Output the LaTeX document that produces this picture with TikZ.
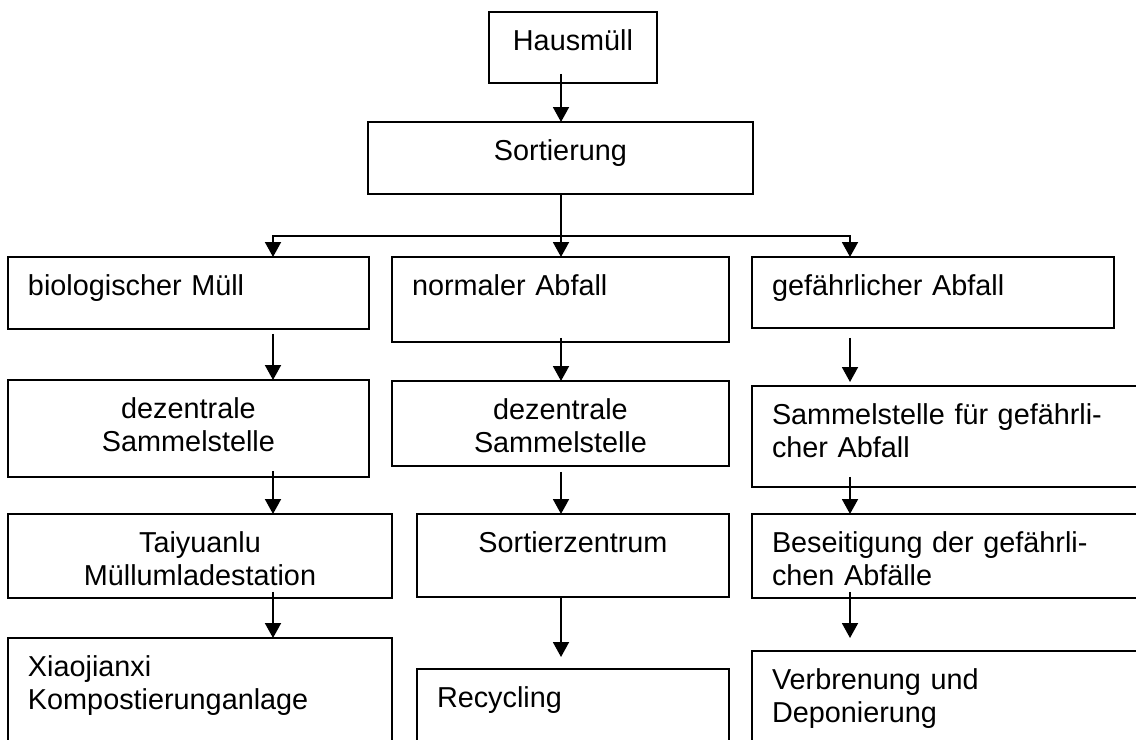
\documentclass[tikz,border=0pt]{standalone}
\usepackage{fontspec}
\setmainfont{Liberation Sans}
\usetikzlibrary{arrows.meta}

\begin{document}
\begin{tikzpicture}[x=0.02cm, y=-0.02cm,
                    ->,
                    >={Triangle[length=0.3cm,width=0.32cm]},
                    line width=1.1pt,
                    box/.style={draw, anchor=north west, outer sep=0pt,
                                inner xsep=0.4cm, inner ysep=0pt,
                                text height=0.78cm,
                                font=\fontsize{16.4}{18.7}\selectfont}
                    ]
  \useasboundingbox (0,0) rectangle (1136,740);
  \clip (0,0) rectangle (1136,740);

  \node[box, text width=2.56cm, text depth=0.64cm, align=center] (haus) at (489,12) {Hausmüll};
  \node[box, text width=6.9cm, text depth=0.66cm, align=center] (sort) at (368,122) {Sortierung};

  \node[box, text width=6.42cm, text depth=0.66cm, align=left] (bio) at (8,257) {biologischer Müll};
  \node[box, text width=5.94cm, text depth=0.92cm, align=left] (norm) at (392,257) {normaler Abfall};
  \node[box, text width=6.44cm, text depth=0.64cm, align=left] (gef) at (752,257) {gefährlicher Abfall};

  \node[box, text width=6.42cm, text depth=1.16cm, align=center] (dez1) at (8,380) {dezentrale\\Sammelstelle};
  \node[box, text width=5.94cm, text depth=0.92cm, align=center] (dez2) at (392,381) {dezentrale\\Sammelstelle};
  \node[box, text width=7.2cm, text depth=1.24cm, align=left] (samm) at (752,386) {Sammelstelle für gefährli-\\cher Abfall};

  \node[box, text width=6.88cm, text depth=0.9cm, align=center] (tai) at (8,514) {Taiyuanlu\\Müllumladestation};
  \node[box, text width=5.44cm, text depth=0.88cm, align=center] (szent) at (417,514) {Sortierzentrum};
  \node[box, text width=7.2cm, text depth=0.9cm, align=left] (bes) at (752,514) {Beseitigung der gefährli-\\chen Abfälle};

  \node[box, text width=6.88cm, text depth=1.82cm, align=left] (xiao) at (8,638) {Xiaojianxi\\Kompostierunganlage};
  \node[box, text width=5.44cm, text depth=1.22cm, align=left] (recy) at (417,669) {Recycling};
  \node[box, text width=7.2cm, text depth=1.62cm, align=left] (verb) at (752,651) {Verbrenung und\\Deponierung};

  % columns of the arrows
  \coordinate (c1) at (273,0);
  \coordinate (c2) at (561,0);
  \coordinate (c3) at (850,0);
  \coordinate (fork) at (561,236);

  \draw [shorten <=-0.18cm] (haus.south -| c2) -- (sort.north -| c2);
  \draw (sort.south -| c2) -- (norm.north -| c2);
  \draw (fork) -| (bio.north -| c1);
  \draw (fork) -| (gef.north -| c3);

  \draw [shorten <=0.1cm] (bio.south -| c1) -- (dez1.north -| c1);
  \draw [shorten <=-0.12cm] (dez1.south -| c1) -- (tai.north -| c1);
  \draw [shorten <=-0.12cm] (tai.south -| c1) -- (xiao.north -| c1);

  \draw [shorten <=-0.08cm] (norm.south -| c2) -- (dez2.north -| c2);
  \draw [shorten <=0.12cm] (dez2.south -| c2) -- (szent.north -| c2);
  \draw [shorten >=0.24cm] (szent.south -| c2) -- (recy.north -| c2);

  \draw [shorten <=0.2cm, shorten >=0.08cm] (gef.south -| c3) -- (samm.north -| c3);
  \draw [shorten <=-0.2cm] (samm.south -| c3) -- (bes.north -| c3);
  \draw [shorten <=-0.12cm, shorten >=0.26cm] (bes.south -| c3) -- (verb.north -| c3);
\end{tikzpicture}
\end{document}
